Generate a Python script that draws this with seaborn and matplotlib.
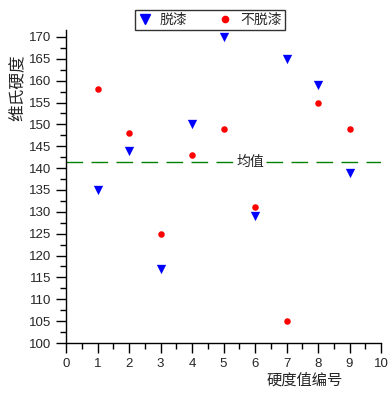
import matplotlib
matplotlib.use("Agg")
import matplotlib.pyplot as plt
import seaborn as sns
import pandas as pd
from matplotlib.ticker import MultipleLocator
from matplotlib.lines import Line2D

x_idx = [1, 2, 3, 4, 5, 6, 7, 8, 9]
stripped = [135, 144, 117, 150, 170, 129, 165, 159, 139]
unstripped = [158, 148, 125, 143, 149, 131, 105, 155, 149]
series_names = ["脱漆", "不脱漆"]
mean_value = 141.5
mean_label = "均值"

df_a = pd.DataFrame({"x": x_idx, "y": stripped})
df_b = pd.DataFrame({"x": x_idx, "y": unstripped})

sns.set_style("ticks")
cjk = ["Noto Sans CJK SC", "DejaVu Sans"]
plt.rcParams["font.family"] = ["Liberation Sans", "Noto Sans CJK SC", "DejaVu Sans"]

fig = plt.figure(figsize=(3.91, 3.94), dpi=100)
ax = fig.add_axes([66/391, 1-343/394, (381-66)/391, (343-30)/394])

sns.scatterplot(data=df_a, x="x", y="y", color="#0000ff", marker="v",
                s=45, linewidth=0, ax=ax, legend=False, zorder=3)
sns.scatterplot(data=df_b, x="x", y="y", color="#ff0000", marker="o",
                s=22, linewidth=0, ax=ax, legend=False, zorder=3)

ax.axhline(mean_value, color="#008000", lw=1, dashes=(12, 6))
ax.text(5.85, mean_value, mean_label, ha="center", va="center", fontsize=10,
        family=cjk, bbox=dict(facecolor="white", edgecolor="none", pad=1.5))

ax.set_xlim(0, 10)
ax.set_ylim(100, 171.6)
ax.xaxis.set_major_locator(MultipleLocator(1))
ax.xaxis.set_minor_locator(MultipleLocator(0.5))
ax.yaxis.set_minor_locator(MultipleLocator(2.5))
ax.set_yticks(list(range(100, 171, 5)))
ax.tick_params(which="major", length=7, width=1, labelsize=9.5, color="black", direction="out")
ax.tick_params(which="minor", length=4, width=1, color="black", direction="out")
for s in ["top", "right"]:
    ax.spines[s].set_visible(False)
for s in ["left", "bottom"]:
    ax.spines[s].set_color("black")
    ax.spines[s].set_linewidth(1)

ax.set_xlabel("")
ax.set_ylabel("")
fig.text(305/391, 1-380/394, "硬度值编号", ha="center", va="center", fontsize=11, family=cjk)
fig.text(18/391, 1-88/394, "维氏硬度", ha="center", va="center", rotation=90, fontsize=12, family=cjk)

handles = [Line2D([], [], ls="none", marker="v", color="#0000ff", markersize=7),
           Line2D([], [], ls="none", marker="o", color="#ff0000", markersize=4.5)]
leg = fig.legend(handles, series_names, ncol=2, loc="center",
                 bbox_to_anchor=(210/391, 1-20/394), frameon=True, fancybox=False,
                 prop={"family": cjk, "size": 10}, handlelength=1, handletextpad=0.6,
                 columnspacing=2.2, borderpad=0.2, borderaxespad=0)
leg.get_frame().set_edgecolor("black")
leg.get_frame().set_linewidth(1)

fig.savefig("out.png", dpi=100)
